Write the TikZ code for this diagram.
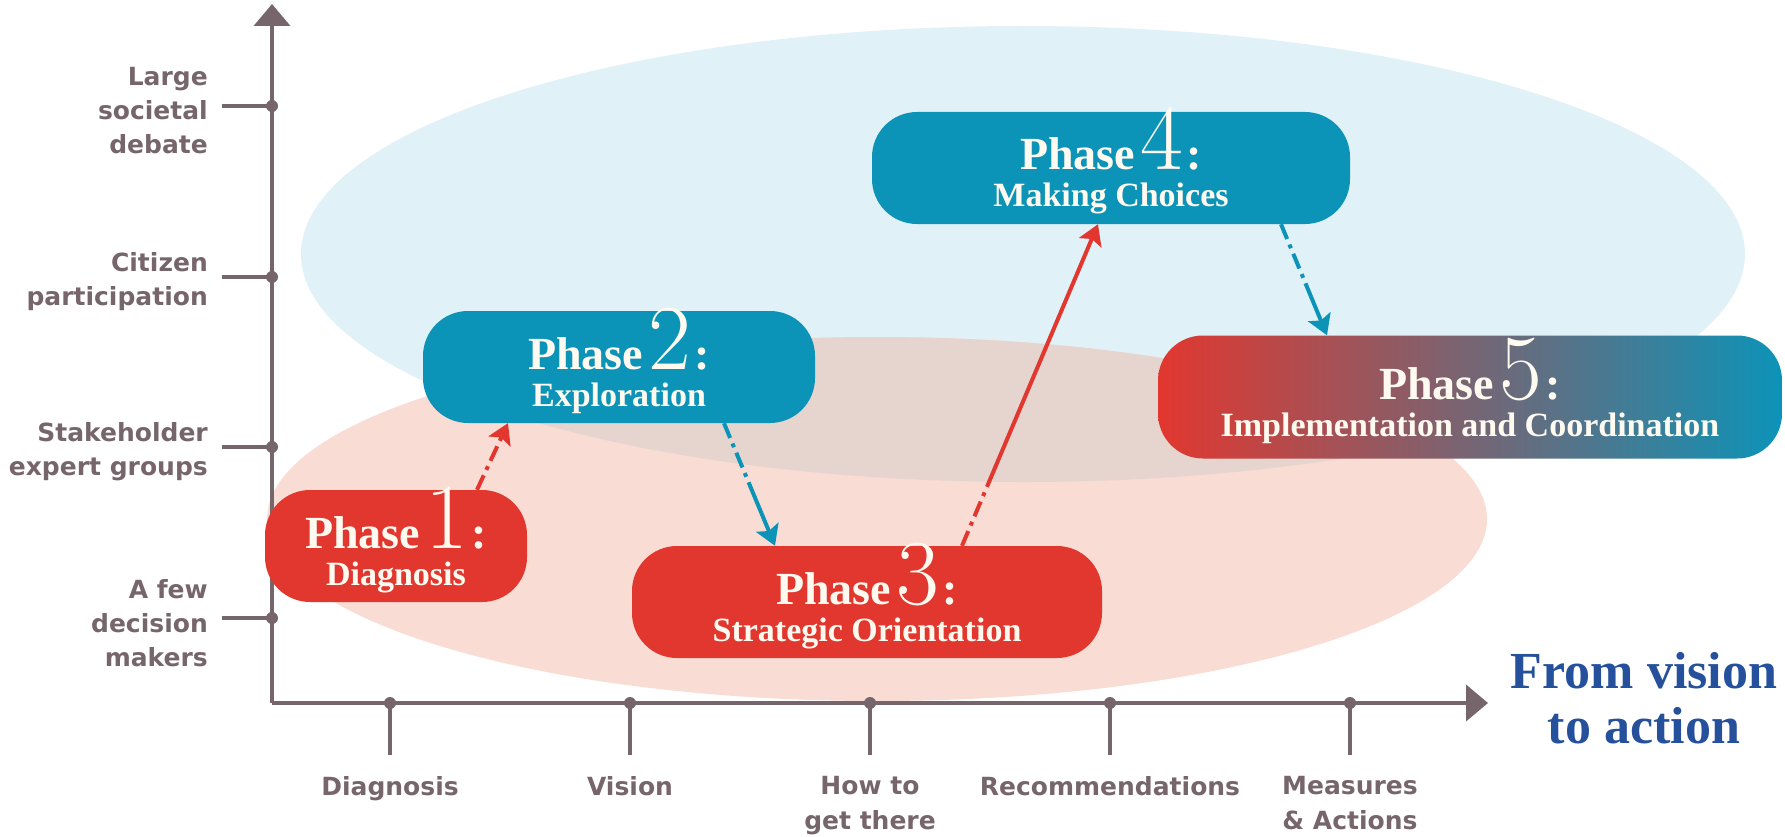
\documentclass[tikz,border=0pt]{standalone}
\usepackage{xcolor}
\usepackage{fontspec}
\setmainfont{Liberation Serif}
\newfontfamily\axisfont{DejaVu Sans}
\newfontfamily\digitfont[Extension=.otf]{lmroman17-regular}
\usetikzlibrary{shapes,arrows.meta,positioning}

\definecolor{axisgrey}{RGB}{118,102,108}
\definecolor{phaseblue}{RGB}{12,147,184}
\definecolor{phasered}{RGB}{226,55,47}
\definecolor{skyfill}{RGB}{225,241,248}
\definecolor{rosefill}{RGB}{249,220,211}
\definecolor{mixfill}{RGB}{230,212,207}
\definecolor{titleblue}{RGB}{37,80,156}
\definecolor{creamtext}{RGB}{255,250,240}
\definecolor{midmauve}{RGB}{156,123,127}

% two-line box text: big number on the first line
\newcommand{\phasetitle}[2]{%
  {\fontsize{46}{37}\selectfont\rule{0pt}{53pt}Phase\hspace{5pt}\smash{\mdseries\digitfont\fontsize{93}{93}\selectfont #1}\hspace{4pt}:}\\
  \rule[-12pt]{0pt}{12pt}#2}

\begin{document}
\begin{tikzpicture}[x=1pt, y=-1pt,
    axisline/.style={draw=axisgrey, line width=4pt},
    phasebox/.style={rounded corners=45pt, inner sep=0pt, minimum height=112pt,
        text=creamtext, align=center, font=\bfseries\fontsize{34}{37}\selectfont},
    flowline/.style={line width=4pt,
        dash pattern=on 16pt off 6pt on 4pt off 6pt on 16pt off 6pt on 4pt off 6pt on 2000pt off 1pt,
        -{Stealth[length=20pt,width=24pt,inset=4pt]}},
    flowred/.style={flowline, draw=phasered},
    flowblue/.style={flowline, draw=phaseblue},
    ylabel/.style={anchor=east, align=right, inner sep=0pt, text=axisgrey,
        font=\axisfont\bfseries\fontsize{25}{34}\selectfont},
    xlabel/.style={anchor=north, align=center, inner sep=0pt, text=axisgrey,
        font=\axisfont\bfseries\fontsize{25}{35}\selectfont}]
    \useasboundingbox (0,0) rectangle (1785,837);

    % Audience clouds
    \fill[skyfill] (1023,254) ellipse [x radius=722pt, y radius=228pt];
    \fill[rosefill] (877,519) ellipse [x radius=610pt, y radius=182pt];
    \begin{scope}
        \clip (1023,254) ellipse [x radius=722pt, y radius=228pt];
        \fill[mixfill] (877,519) ellipse [x radius=610pt, y radius=182pt];
    \end{scope}

    % Axes
    \coordinate (origin) at (272,703);
    \coordinate (ytip) at (272,4);
    \coordinate (xtip) at (1488,703);
    \draw[axisline, -{Triangle[length=22pt,width=36pt]}] (origin) -- (ytip);
    \draw[axisline, -{Triangle[length=22pt,width=36pt]}] (origin) -- (xtip);

    % Participation levels
    \foreach \y/\txt [count=\i] in {106/{Large\\societal\\debate},
                                    277/{Citizen\\participation},
                                    447/{Stakeholder\\expert groups},
                                    618/{A few\\decision\\makers}} {
        \draw[axisline] (222,\y) -- (272,\y);
        \fill[axisgrey] (272,\y) circle (6pt);
        \node[ylabel] (ylab\i) at (208,\y+5) {\txt};
    }

    % Steps along the way
    \foreach \x/\txt [count=\i] in {390/Diagnosis, 630/Vision,
                                    870/{How to\\get there},
                                    1110/Recommendations,
                                    1350/{Measures\\\& Actions}} {
        \draw[axisline] (\x,703) -- (\x,755);
        \fill[axisgrey] (\x,703) circle (6pt);
        \node[xlabel] (xlab\i) at (\x,776) {\txt};
    }

    \node[align=center, inner sep=0pt, text=titleblue,
          font=\bfseries\fontsize{52}{55}\selectfont] (goal) at (1644,698)
          {From vision\\to action};

    % Phases
    \node[phasebox, fill=phasered, minimum width=262pt] (p1) at (396,546)
        {\phasetitle{1}{Diagnosis}};
    \node[phasebox, fill=phaseblue, minimum width=392pt] (p2) at (619,367)
        {\phasetitle{2}{Exploration}};
    \node[phasebox, fill=phasered, minimum width=470pt] (p3) at (867,602)
        {\phasetitle{3}{Strategic Orientation}};
    \node[phasebox, fill=phaseblue, minimum width=478pt] (p4) at (1111,168)
        {\phasetitle{4}{Making Choices}};
    \node[phasebox, left color=phasered, middle color=midmauve, right color=phaseblue,
          minimum width=624pt, minimum height=123pt] (p5) at (1470,397)
        {\phasetitle{5}{Implementation and Coordination}};

    % Flow between phases
    \draw[flowred] ([xshift=81pt]p1.north) -- ([xshift=-111pt]p2.south);
    \draw[flowblue] ([xshift=105pt]p2.south) -- ([xshift=-92pt]p3.north);
    \draw[flowred] ([xshift=95pt]p3.north) -- ([xshift=-13pt]p4.south);
    \draw[flowblue] ([xshift=170pt]p4.south) -- ([xshift=-143pt]p5.north);
\end{tikzpicture}
\end{document}
